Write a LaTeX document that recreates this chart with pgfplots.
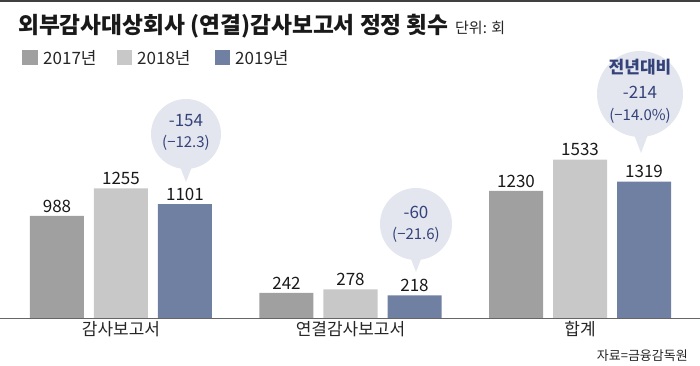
\documentclass[border=0pt]{standalone}
\usepackage{fontspec}
\setmainfont{Noto Sans CJK KR}
\usepackage{pgfplots}
\pgfplotsset{compat=1.18}
\definecolor{c17}{HTML}{A0A0A0}
\definecolor{c18}{HTML}{C8C8C8}
\definecolor{c19}{HTML}{7080A2}
\definecolor{bub}{HTML}{E3E6EE}
\definecolor{navy}{HTML}{34427A}
\newcommand{\fs}[1]{\fontsize{#1}{#1}\selectfont}
\begin{document}
\begin{tikzpicture}
\useasboundingbox (0,0) rectangle (700pt,366pt);
\begin{axis}[at={(0pt,48pt)}, anchor=south west, scale only axis,
  width=700pt, height=318pt,
  xmin=-0.5272, xmax=2.5229, ymin=0, ymax=3078,
  axis y line=none, axis x line=bottom,
  x axis line style={-, draw=black!60, line width=0.8pt},
  xtick={0,1,2}, xticklabels={감사보고서,연결감사보고서,합계},
  major tick length=0pt,
  xticklabel style={font=\fs{17}, text=black!85},
  ybar, bar width=54pt, clip=false,
  nodes near coords,
  every node near coord/.append style={font=\fs{17}, text=black!90},
  /pgf/number format/.cd, 1000 sep={}, assume math mode=true]
\addplot[fill=c17, draw=none, bar shift=-64pt] coordinates {(0,988) (1,242) (2,1230)};
\addplot[fill=c18, draw=none, bar shift=0pt] coordinates {(0,1255) (1,278) (2,1533)};
\addplot[fill=c19, draw=none, bar shift=64pt] coordinates {(0,1101) (1,218) (2,1319)};
\end{axis}
\begin{scope}[x=1pt, y=-1pt, shift={(0pt,366pt)}]
\draw[line width=1.5pt, black!75] (0,1.2) -- (700,1.2);
\node[anchor=west, font=\bfseries\fs{22.7}, inner sep=0, text=black!90] (t) at (18,26) {외부감사대상회사 (연결)감사보고서 정정 횟수};
\node[anchor=base west, font=\fs{15}, inner sep=0, text=black!85] at ([xshift=6pt]t.base east) {단위: 회};
% legend
\fill[c17] (22,50) rectangle (38,65);
\node[anchor=west, font=\fs{17}, inner sep=0, text=black!85] at (43,57.5) {2017년};
\fill[c18] (117,50) rectangle (132,65);
\node[anchor=west, font=\fs{17}, inner sep=0, text=black!85] at (137,57.5) {2018년};
\fill[c19] (215,50) rectangle (230,65);
\node[anchor=west, font=\fs{17}, inner sep=0, text=black!85] at (235,57.5) {2019년};
% bubbles
\fill[bub] (186,134) circle[radius=35pt];
\fill[bub] (179,164) -- (186,182) -- (193,164) -- cycle;
\node[text=navy, font=\fs{17}] at (186,121) {-154};
\node[text=navy, font=\fs{15}] at (186,143) {(−12.3)};
\fill[bub] (416,224) circle[radius=36pt];
\fill[bub] (409,254) -- (416,272) -- (423,254) -- cycle;
\node[text=navy, font=\fs{17}] at (416,212) {-60};
\node[text=navy, font=\fs{15}] at (416,235) {(−21.6)};
\fill[bub] (640,94) circle[radius=43pt];
\fill[bub] (633,132) -- (641,153) -- (649,132) -- cycle;
\node[text=navy, font=\bfseries\fs{17}] at (640,67) {전년대비};
\node[text=navy, font=\fs{17}] at (640,92) {-214};
\node[text=navy, font=\fs{15}] at (640,116) {(−14.0\%)};
% source
\node[anchor=east, font=\fs{13}, inner sep=0, text=black!85] at (688,356) {자료=금융감독원};
\end{scope}
\end{tikzpicture}
\end{document}
